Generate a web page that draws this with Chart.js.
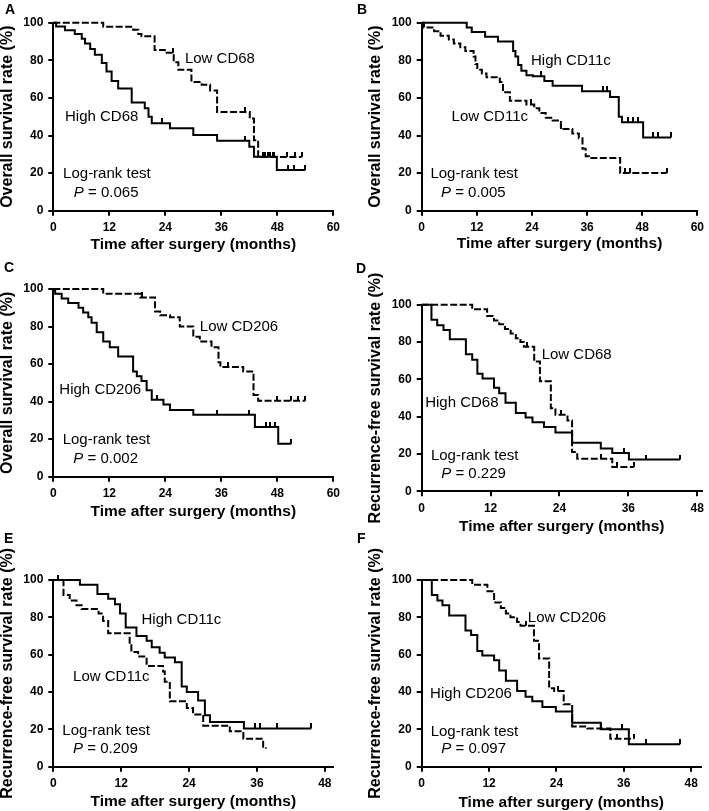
<!DOCTYPE html>
<html>
<head>
<meta charset="utf-8">
<script src="https://cdn.jsdelivr.net/npm/chart.js@4.4.1/dist/chart.umd.min.js"></script>
<style>
  html, body { margin: 0; padding: 0; background: #fff; }
  #fig { position: relative; width: 709px; height: 811px; overflow: hidden; }
  #fig canvas { position: absolute; }
  .tag { position: absolute; font: bold 14px/14px "Liberation Sans", Arial, sans-serif; color: #000; }
</style>
</head>
<body>
<div id="fig"></div>
<script>
// A: overall survival, CD68
const aHighT = [0, 0.6, 2.5, 4.6, 6.1, 6.8, 7.9, 8.9, 10.4, 11.4, 12.5, 13.9, 16.8, 19.6, 20.4, 21.1, 25, 30, 35.1, 42, 43, 47.9, 54];
const aHighS = [100, 98, 96, 94, 91.5, 89, 86, 83, 78.5, 74, 69, 65, 57.5, 54.5, 50, 46.5, 43.8, 40.3, 37.2, 34, 28.7, 21.6, 21.6];
const aHighCens = [23.2, 41.1, 45, 46, 47, 50.3, 51.5, 54];
const aLowT = [0, 10.7, 17.1, 18.2, 18.9, 21.7, 23.9, 25.8, 26.8, 29.6, 31.8, 33.6, 35.1, 42.1, 43, 43.9, 53.2];
const aLowS = [100, 97.8, 96.3, 94, 92.8, 85.5, 84, 79, 75, 68.5, 67, 64, 52.5, 49, 37.5, 28.5, 28.5];
const aLowCens = [25.6, 41.1, 45.4, 46.4, 47.3, 50, 51.8, 53.2];

// B: overall survival, CD11c
const bHighT = [0, 9.8, 10.9, 13.8, 16.6, 19.9, 20.4, 21, 21.7, 22.8, 24.2, 26.7, 28.5, 34.9, 41, 42.9, 43.6, 48.2, 54.3];
const bHighS = [100, 97.5, 95, 92.5, 90, 85, 82, 77.5, 74.5, 72, 71.5, 69, 66.5, 63.5, 60.5, 50, 47, 39, 39];
const bHighCens = [26, 39.5, 40.3, 45, 46, 47.1, 50.3, 51.4, 54.3];
const bLowT = [0, 0.5, 2.7, 4.1, 5.9, 7, 8.4, 9.5, 11.3, 11.7, 12.1, 13.1, 14.1, 17, 17.7, 19.2, 22.8, 24.5, 25.6, 27, 28.5, 30.3, 32.8, 34.2, 35, 35.7, 36.4, 43.2, 53.3];
const bLowS = [100, 97.5, 95.5, 93, 91, 89, 87, 85, 82, 78, 75, 73, 71, 68.5, 63, 58.5, 56.5, 54.5, 52, 49.5, 48, 43.5, 41, 38.5, 33, 29, 28, 20, 20];
const bLowCens = [23.8, 30.4, 44.2, 45.3, 53.3];

// C: overall survival, CD206
const cHighT = [0, 0.4, 1.8, 3.2, 5.4, 6.4, 7.5, 8.2, 9.3, 10.7, 12.1, 13.9, 17.1, 17.9, 18.9, 20, 21.1, 23.6, 25, 30, 43.2, 48.2, 51];
const cHighS = [100, 97.5, 95, 92.5, 90, 87.5, 85, 82, 77, 72, 69, 64, 56, 53.5, 51, 46, 41, 38.5, 35.5, 33, 26.5, 17.5, 17.5];
const cHighCens = [22.2, 35, 42, 45.5, 46.5, 47.5, 51];
const cLowT = [0, 10.7, 18.6, 21.8, 22.9, 25, 27.1, 30, 31.4, 33.9, 35.4, 35.8, 40.7, 42.9, 43.9, 54];
const cLowS = [100, 97.5, 95.5, 88, 86, 85, 80, 74.5, 72, 69, 61, 58.5, 56, 43.5, 40.5, 40.5];
const cLowCens = [19, 37.5, 48, 51, 52.4, 54];

// D: recurrence-free survival, CD68
const dHighT = [0, 1.7, 2.7, 3.8, 4.9, 7.7, 8.8, 9.7, 10.6, 12.6, 13.5, 14.6, 16.4, 18.1, 19.3, 21.3, 23.3, 26.2, 31.2, 33.2, 36.1, 45];
const dHighS = [100, 92, 89, 86.5, 81.5, 73.5, 70.5, 63, 60.5, 55.5, 52.5, 47.5, 42, 39.5, 37, 34.5, 31.5, 26, 23, 20.5, 17, 17];
const dHighCens = [35.2, 39, 45];
const dLowT = [0, 8.8, 11.4, 12.6, 13.5, 14.5, 15.5, 16.4, 17.2, 17.8, 19.6, 20.6, 22.5, 23.3, 25.4, 26.2, 27.1, 33.2, 37];
const dLowS = [100, 97.5, 94, 91.5, 89.5, 87, 84.5, 82, 80, 77.5, 69.5, 59, 44.5, 41, 38, 21, 17.5, 13, 13];
const dLowCens = [18.4, 24.2, 31.2, 34.1, 37];

// E: recurrence-free survival, CD11c
const eHighT = [0, 4.7, 7.8, 9.7, 10.9, 11.8, 12.8, 14.7, 16.5, 17.4, 18.8, 19.7, 21.5, 22.7, 23.6, 25.6, 26.8, 27.7, 33.7, 45.6];
const eHighS = [100, 97.5, 92.5, 90, 87, 82, 74.5, 70, 67.5, 64, 61, 58.5, 56, 43, 40, 35.5, 27.5, 24, 20.5, 20.5];
const eHighCens = [35.6, 36.5, 39.5, 45.6];
const eLowT = [0, 1.8, 2.9, 4.1, 5, 8, 8.8, 9.7, 13.5, 13.8, 15, 16.5, 19.4, 19.7, 20.6, 23.6, 24.7, 26.5, 31.2, 33.6, 37.1, 37.7];
const eLowS = [100, 92, 89, 86.5, 84.5, 82, 78, 71.5, 65, 61.5, 59, 54, 51, 45.5, 35, 31.5, 28, 22, 19, 15, 10, 10];
const eLowCens = [0.9];

// F: recurrence-free survival, CD206
const fHighT = [0, 1.8, 2.8, 3.7, 4.9, 7.8, 8.8, 9.9, 10.8, 12.9, 13.8, 15, 17, 18.5, 19.7, 21.5, 23.9, 26.8, 31.9, 36.9, 46];
const fHighS = [100, 92, 89, 86.5, 81, 73, 70.5, 62, 59.5, 57, 51.5, 46, 40.5, 37.5, 35, 32, 29.5, 23.5, 20, 12, 12];
const fHighCens = [35.7, 39.9, 46];
const fLowT = [0, 9, 11.7, 12.9, 14.1, 15, 15.8, 17, 17.6, 20, 20.9, 22.7, 23.6, 25.3, 26.8, 29.5, 33.6, 37.8];
const fLowS = [100, 97.5, 94, 88, 85, 82, 80, 77.5, 75.5, 67.5, 58, 42, 40.5, 33.5, 21.5, 20.5, 15, 15];
const fLowCens = [18.5, 24.2, 32, 34.8, 37.8];

const xTicks = [0, 12, 24, 36, 48, 60];
const yTicks = [0, 20, 40, 60, 80, 100];

const FAMILY = '"Liberation Sans", Arial, sans-serif';
const fig = document.getElementById('fig');

// censor mark: short vertical stroke sitting on top of the curve
const censMark = document.createElement('canvas');
censMark.width = 2; censMark.height = 10;
const cm = censMark.getContext('2d');
cm.fillStyle = '#000';
cm.fillRect(0, 0, 2, 5);

function stepAt(t, s, v) {
  let k = 0;
  for (let i = 0; i < t.length; i++) if (t[i] <= v) k = i;
  return s[k];
}

const notesPlugin = {
  id: 'notes',
  afterDatasetsDraw(chart, args, opts) {
    const { ctx, scales: { x, y } } = chart;
    ctx.save();
    ctx.fillStyle = '#000';
    ctx.textBaseline = 'middle';
    ctx.textAlign = 'left';
    (opts.items || []).forEach(it => {
      let px = x.getPixelForValue(it.x);
      const py = y.getPixelForValue(it.y);
      if (it.p) {
        ctx.font = 'italic 15px ' + FAMILY;
        ctx.fillText('P', px, py);
        px += ctx.measureText('P').width;
        ctx.font = '15px ' + FAMILY;
        ctx.fillText(' = ' + it.p, px, py);
      } else {
        ctx.font = '15px ' + FAMILY;
        ctx.fillText(it.text, px, py);
      }
    });
    ctx.restore();
  }
};

function panel(tag, g, xMax, yTitle, curves, notes) {
  const cv = document.createElement('canvas');
  cv.width = g.w; cv.height = g.h;
  cv.style.left = g.cx + 'px'; cv.style.top = g.cy + 'px';
  fig.appendChild(cv);

  const lbl = document.createElement('div');
  lbl.className = 'tag';
  lbl.textContent = tag;
  lbl.style.left = g.tx + 'px'; lbl.style.top = g.ty + 'px';
  fig.appendChild(lbl);

  const datasets = [];
  curves.forEach(c => {
    datasets.push({
      data: c.t.map((v, i) => ({ x: v, y: c.s[i] })),
      stepped: 'before',
      borderColor: '#000',
      borderWidth: 2,
      borderDash: c.dash ? [7, 2.5] : [],
      pointRadius: 0,
      fill: false,
      clip: false
    });
    datasets.push({
      data: c.cens.map(v => ({ x: v, y: stepAt(c.t, c.s, v) })),
      showLine: false,
      pointStyle: censMark,
      pointRadius: 3,
      clip: false
    });
  });

  const tickFont = { family: FAMILY, size: 12, weight: 'bold' };
  new Chart(cv, {
    type: 'line',
    data: { datasets },
    plugins: [notesPlugin],
    options: {
      responsive: false,
      animation: false,
      layout: { padding: { left: 0, top: g.t - g.cy, right: g.cx + g.w - g.r, bottom: 0 } },
      plugins: { legend: { display: false }, tooltip: { enabled: false }, notes: { items: notes } },
      scales: {
        x: {
          type: 'linear', min: 0, max: xMax,
          afterFit: s => { s.height = g.cy + g.h - g.b; },
          afterBuildTicks: s => { s.ticks = xTicks.filter(v => v <= xMax).map(v => ({ value: v })); },
          grid: { drawOnChartArea: false, color: '#000', lineWidth: 2, tickLength: 5 },
          border: { color: '#000', width: 2 },
          ticks: { color: '#000', padding: 5, maxRotation: 0, font: tickFont },
          title: {
            display: true, text: 'Time after surgery (months)', color: '#000',
            font: { family: FAMILY, size: 15.5, weight: 'bold', lineHeight: 1 },
            padding: { top: 0, bottom: g.cy + g.h - g.xt - 7.75 }
          }
        },
        y: {
          min: 0, max: 100,
          afterFit: s => { s.width = g.l - g.cx; },
          afterBuildTicks: s => { s.ticks = yTicks.map(v => ({ value: v })); },
          grid: { drawOnChartArea: false, color: '#000', lineWidth: 2, tickLength: 5 },
          border: { color: '#000', width: 2 },
          ticks: { color: '#000', padding: 5, font: tickFont },
          title: {
            display: true, text: yTitle, color: '#000',
            font: { family: FAMILY, size: 16, weight: 'bold', lineHeight: 1 },
            padding: { top: g.yt - g.cx - 8, bottom: 0 }
          }
        }
      }
    }
  });
}

const OS = 'Overall survival rate (%)';
const RFS = 'Recurrence-free survival rate (%)';

panel('A', { cx: 0, cy: 0, w: 354, h: 262, l: 53.3, r: 333.3, t: 22.7, b: 210.7, xt: 245, yt: 8, tx: 5, ty: 2 }, 60, OS,
  [{ t: aHighT, s: aHighS, cens: aHighCens }, { t: aLowT, s: aLowS, cens: aLowCens, dash: true }],
  [{ x: 28.2, y: 81, text: 'Low CD68' }, { x: 2.5, y: 50, text: 'High CD68' },
   { x: 2.1, y: 19.5, text: 'Log-rank test' }, { x: 4.4, y: 9.6, p: '0.065' }]);

panel('B', { cx: 354, cy: 0, w: 355, h: 262, l: 421.7, r: 701.7, t: 22.7, b: 210.7, xt: 244, yt: 375.7, tx: 357, ty: 2 }, 60, OS,
  [{ t: bHighT, s: bHighS, cens: bHighCens }, { t: bLowT, s: bLowS, cens: bLowCens, dash: true }],
  [{ x: 23.8, y: 79.6, text: 'High CD11c' }, { x: 6.5, y: 50, text: 'Low CD11c' },
   { x: 1.9, y: 19.5, text: 'Log-rank test' }, { x: 4.2, y: 9.6, p: '0.005' }]);

panel('C', { cx: 0, cy: 266, w: 354, h: 268, l: 53.3, r: 333.3, t: 289, b: 476.7, xt: 511.7, yt: 8, tx: 4, ty: 260 }, 60, OS,
  [{ t: cHighT, s: cHighS, cens: cHighCens }, { t: cLowT, s: cLowS, cens: cLowCens, dash: true }],
  [{ x: 31.4, y: 80, text: 'Low CD206' }, { x: 1.3, y: 46, text: 'High CD206' },
   { x: 2, y: 19.5, text: 'Log-rank test' }, { x: 4.3, y: 9.4, p: '0.002' }]);

panel('D', { cx: 354, cy: 262, w: 355, h: 278, l: 421.7, r: 702, t: 304.7, b: 491.3, xt: 527, yt: 375.7, tx: 356, ty: 261 }, 48.8, RFS,
  [{ t: dHighT, s: dHighS, cens: dHighCens }, { t: dLowT, s: dLowS, cens: dLowCens, dash: true }],
  [{ x: 20.9, y: 73, text: 'Low CD68' }, { x: 0.6, y: 47.5, text: 'High CD68' },
   { x: 1.6, y: 19, text: 'Log-rank test' }, { x: 3.4, y: 9.3, p: '0.229' }]);

panel('E', { cx: 0, cy: 540, w: 354, h: 271, l: 53.3, r: 333.3, t: 580, b: 766.7, xt: 801.7, yt: 8, tx: 4, ty: 531 }, 49.5, RFS,
  [{ t: eHighT, s: eHighS, cens: eHighCens }, { t: eLowT, s: eLowS, cens: eLowCens, dash: true }],
  [{ x: 15.6, y: 78.6, text: 'High CD11c' }, { x: 3.5, y: 48.2, text: 'Low CD11c' },
   { x: 1.6, y: 19.3, text: 'Log-rank test' }, { x: 3.5, y: 9.5, p: '0.209' }]);

panel('F', { cx: 354, cy: 540, w: 355, h: 271, l: 421.7, r: 700.7, t: 580, b: 766.7, xt: 802.3, yt: 375.7, tx: 357, ty: 531 }, 49.7, RFS,
  [{ t: fHighT, s: fHighS, cens: fHighCens }, { t: fLowT, s: fLowS, cens: fLowCens, dash: true }],
  [{ x: 18.9, y: 79.5, text: 'Low CD206' }, { x: 1.5, y: 38.8, text: 'High CD206' },
   { x: 1.6, y: 18.8, text: 'Log-rank test' }, { x: 3.5, y: 9.5, p: '0.097' }]);
</script>
</body>
</html>
